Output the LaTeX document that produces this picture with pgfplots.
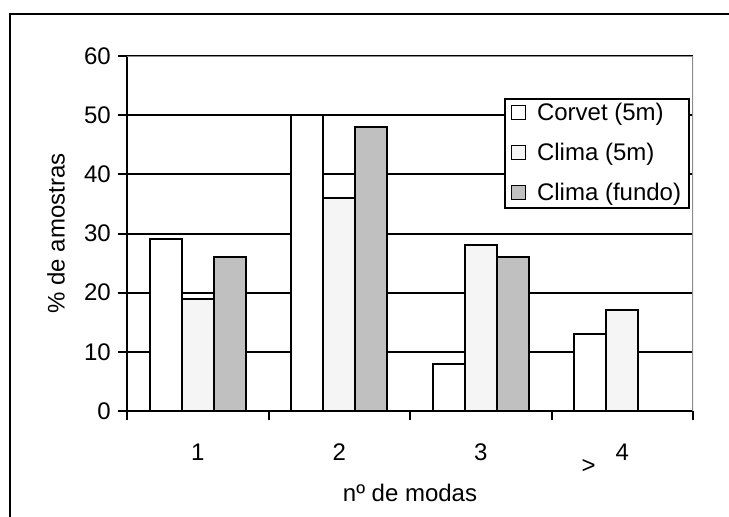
\documentclass[border=0pt]{standalone}
\usepackage{pgfplots}
\pgfplotsset{compat=1.18}
\usepackage{fontspec}
\setmainfont{Liberation Sans}
\definecolor{climaA}{HTML}{F5F5F5}
\definecolor{climaB}{HTML}{C0C0C0}
\definecolor{borda}{HTML}{8C8C8C}
\begin{document}
\fontsize{24}{29}\selectfont
\begin{tikzpicture}
\path[use as bounding box] (0,0) rectangle (729pt,517pt);
\draw[line width=2.4pt] (10pt,-5pt) -- (10pt,503pt) -- (735pt,503pt);
\begin{axis}[
  at={(127pt,106pt)}, anchor=south west,
  scale only axis, width=566pt, height=355pt,
  xmin=-0.5, xmax=3.5, ymin=0, ymax=60,
  ybar=0pt, bar width=32pt,
  axis lines=left,
  axis line style={-, line width=2pt},
  xtick={-0.5,0.5,1.5,2.5,3.5},
  x tick label as interval,
  xticklabels={1,2,3,{\makebox[0pt][r]{\raisebox{-13pt}{>}\hspace{20pt}}4}},
  ytick={0,10,...,60},
  tick align=outside, major tick length=9pt,
  tick style={line width=2pt, black},
  ymajorgrids, grid style={line width=2pt, black},
  /pgf/number format/assume math mode=true,
  ticklabel style={font=\fontsize{24}{29}\selectfont},
  xticklabel style={yshift=-16pt},
  yticklabel style={xshift=1pt},
  ylabel={\% de amostras},
  xlabel={nº de modas},
  ylabel style={at={(axis description cs:-0.1254,0.5)}, anchor=center},
  xlabel style={at={(axis description cs:0.5,-0.231)}, anchor=center},
  label style={font=\fontsize{24}{29}\selectfont},
  legend style={at={(1,1)}, anchor=north east, xshift=-3pt, yshift=-42pt,
    draw=black, line width=1.8pt, inner xsep=6pt, inner ysep=3pt,
    row sep=17pt, column sep=9pt,
    nodes={inner ysep=1pt},
    font=\fontsize{24}{29}\selectfont},
  legend cell align=left,
  legend image code/.code={\draw[#1, line width=1pt] (0pt,-6pt) rectangle (14pt,8pt);},
]
\addplot[fill=white, draw=black, line width=2pt] coordinates {(0,29) (1,50) (2,8) (3,13)};
\addplot[fill=climaA, draw=black, line width=2pt] coordinates {(0,19) (1,36) (2,28) (3,17)};
\addplot[fill=climaB, draw=black, line width=2pt] coordinates {(0,26) (1,48) (2,26)};
\legend{Corvet (5m), Clima (5m), Clima (fundo)}
\draw[borda, line width=2pt] (rel axis cs:0,1) -- (rel axis cs:1,1) -- (rel axis cs:1,0);
\end{axis}
\end{tikzpicture}
\end{document}
